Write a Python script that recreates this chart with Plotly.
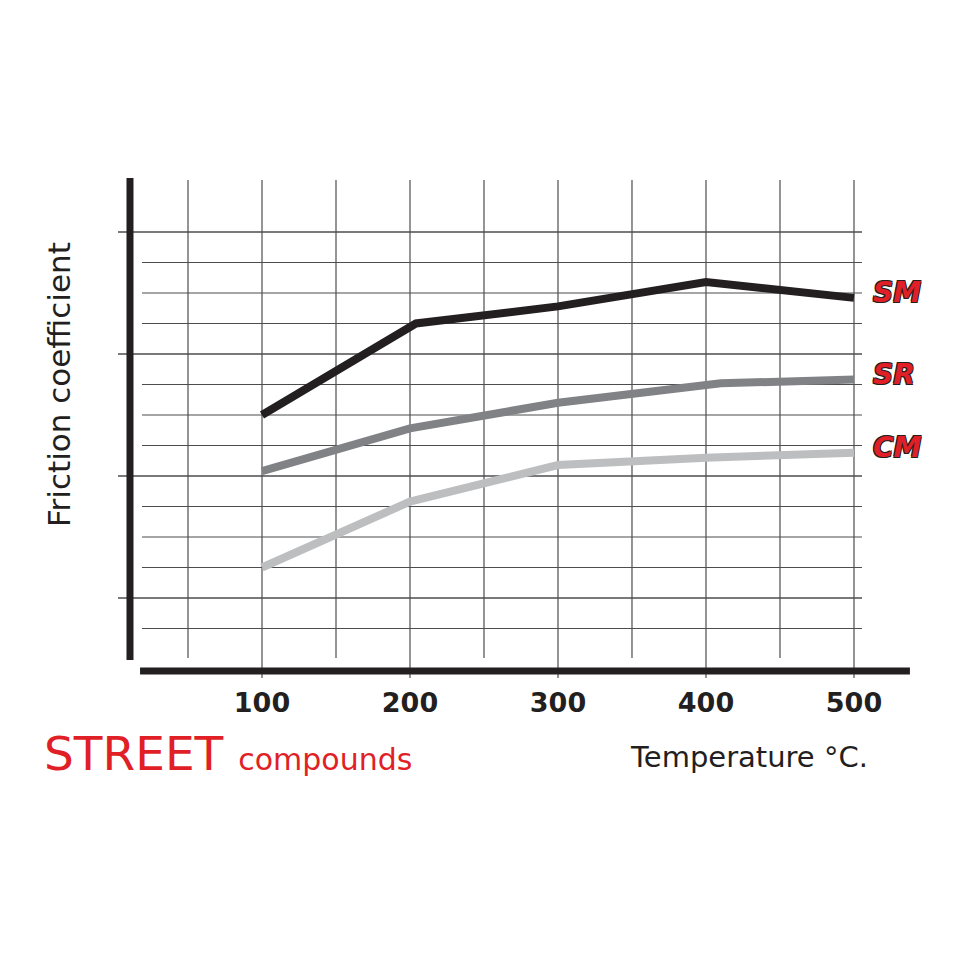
import plotly.graph_objects as go

# --- data (temperature in deg C, friction coefficient) ---
sm_temp = [100, 204, 300, 400, 500]
sm_mu = [0.450, 0.525, 0.539, 0.559, 0.546]

sr_temp = [100, 200, 300, 410, 500]
sr_mu = [0.404, 0.439, 0.460, 0.476, 0.479]

cm_temp = [100, 200, 300, 400, 500]
cm_mu = [0.325, 0.379, 0.409, 0.415, 0.419]

tick_temps = [100, 200, 300, 400, 500]
tick_text = ["100", "200", "300", "400", "500"]

# grid values
grid_x = [50, 100, 150, 200, 250, 300, 350, 400, 450, 500]
grid_y = [0.275, 0.3, 0.325, 0.35, 0.375, 0.4, 0.425, 0.45, 0.475, 0.5, 0.525, 0.55, 0.575, 0.6]
major_y = [0.3, 0.4, 0.5, 0.6]

INK = "#231f20"
RED = "#e01f26"
GRID = "#4d4d4f"
OUTLINE = ("-1px -1px 0 #231f20, 1px -1px 0 #231f20, "
           "-1px 1px 0 #231f20, 1px 1px 0 #231f20")

# page offset of the plotly div (body margin)
OFF = 8
L, R, T, B = 118 - OFF, 912 - OFF, 170 - OFF, 684 - OFF


def px(xp):
    return (xp - OFF - L) / (R - L)


def py(yp):
    return (B - (yp - OFF)) / (B - T)


fig = go.Figure()

# --- grid ---
for gx in grid_x:
    is_major = gx % 100 == 0
    fig.add_shape(type="line", xref="x", yref="y",
                  x0=gx, x1=gx, y0=0.6426, y1=0.2344 if is_major else 0.2508,
                  line=dict(color=GRID, width=1.2), layer="below")
for gy in grid_y:
    is_major = gy in major_y
    fig.add_shape(type="line", xref="x", yref="y",
                  x0=2.7 if is_major else 18.9, x1=505.4, y0=gy, y1=gy,
                  line=dict(color=GRID, width=1.4 if is_major else 1.1), layer="below")

# --- axes (thick strokes) ---
fig.add_shape(type="line", xref="x", yref="y", x0=10.8, x1=10.8, y0=0.6443, y1=0.2492,
              line=dict(color=INK, width=7))
fig.add_shape(type="line", xref="x", yref="y", x0=17.6, x1=537.8, y0=0.2402, y1=0.2402,
              line=dict(color=INK, width=7))

# --- compound curves ---
series = [
    ("SM", sm_temp, sm_mu, INK),
    ("SR", sr_temp, sr_mu, "#808285"),
    ("CM", cm_temp, cm_mu, "#bcbec0"),
]
for name, xs, ys, col in series:
    fig.add_trace(go.Scatter(x=xs, y=ys, mode="lines", name=name,
                             line=dict(color=col, width=8), hoverinfo="x+y+name"))
    fig.add_annotation(x=xs[-1], y=ys[-1], xref="x", yref="y", text=name,
                       showarrow=False, xanchor="left", yanchor="middle",
                       xshift=17, yshift=5,
                       font=dict(family="DejaVu Sans", size=28, color=RED,
                                 weight="bold", style="italic", shadow=OUTLINE))

# --- texts ---
fig.add_annotation(x=px(59), y=py(385), xref="paper", yref="paper", text="Friction coefficient",
                   showarrow=False, textangle=-90, xanchor="center", yanchor="middle",
                   font=dict(family="DejaVu Sans", size=31, color=INK))
fig.add_annotation(x=px(42), y=py(753), xref="paper", yref="paper",
                   text="STREET&nbsp;<span style='font-size:30px'>compounds</span>",
                   showarrow=False, xanchor="left", yanchor="middle",
                   font=dict(family="DejaVu Sans", size=47, color=RED))
fig.add_annotation(x=px(870), y=py(757), xref="paper", yref="paper",
                   text="Temperature °C.", showarrow=False, xanchor="right", yanchor="middle",
                   font=dict(family="DejaVu Sans", size=29, color=INK))

fig.update_layout(
    width=960, height=960, autosize=False,
    margin=dict(l=L, r=960 - R, t=T, b=960 - B),
    paper_bgcolor="white", plot_bgcolor="white",
    showlegend=False,
)
fig.update_xaxes(range=[2.7, 539.2], showgrid=False, zeroline=False, showline=False,
                 tickvals=tick_temps, ticktext=tick_text, ticks="",
                 tickfont=dict(family="DejaVu Sans", size=27, color=INK, weight="bold"))
fig.update_yaxes(range=[0.2295, 0.6508], showgrid=False, zeroline=False, showline=False,
                 showticklabels=False)

fig.write_html("out.html")
